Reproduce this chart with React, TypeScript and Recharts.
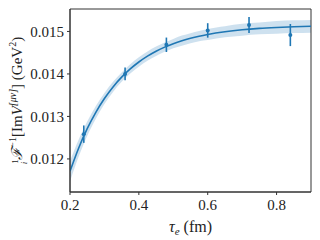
import {
  Area,
  ComposedChart,
  ErrorBar,
  Line,
  ReferenceArea,
  Scatter,
  XAxis,
  YAxis,
} from 'recharts';

const C0 = '#1f77b4';
const FONT = '"Liberation Serif", "DejaVu Serif", serif';

// fit curve + band
const fitX = [0.2, 0.225, 0.25, 0.275, 0.3, 0.325, 0.35, 0.375, 0.4, 0.425, 0.45, 0.475, 0.5, 0.525, 0.55, 0.575, 0.6, 0.65, 0.7, 0.75, 0.8, 0.85, 0.9];
const fitY = [0.01171, 0.012253, 0.012711, 0.013096, 0.013421, 0.013694, 0.013924, 0.014118, 0.014281, 0.014418, 0.014534, 0.014631, 0.014713, 0.014782, 0.01484, 0.014889, 0.01493, 0.014994, 0.01504, 0.015072, 0.015094, 0.015111, 0.015122];
const bandHalf = [0.00024, 0.0002, 0.00017, 0.00015, 0.00013, 0.00012, 0.00011, 0.00011, 0.00011, 0.00011, 0.00011, 0.00011, 0.00011, 0.00012, 0.00012, 0.00012, 0.00013, 0.00013, 0.00014, 0.00014, 0.00015, 0.00015, 0.00015];

// lattice points
const tauE = [0.24, 0.36, 0.48, 0.6, 0.72, 0.84];
const values = [0.012583, 0.014, 0.014686, 0.015024, 0.015151, 0.014915];
const errors = [0.000205, 0.00015, 0.00017, 0.00017, 0.00019, 0.00026];

const xTicks = [0.2, 0.4, 0.6, 0.8];
const yTicks = [0.012, 0.013, 0.014, 0.015];
const xDomain = [0.2, 0.9];
const yDomain = [0.011222, 0.015528];

const fitData = fitX.map((x, i) => ({ x, y: fitY[i], band: [fitY[i] - bandHalf[i], fitY[i] + bandHalf[i]] }));
const pointData = tauE.map((x, i) => ({ x, v: values[i], err: errors[i] }));

function YLabel(props: any) {
  const vb = props.viewBox || { x: 0, y: 0, width: 0, height: 0 };
  const cx = 22;
  const cy = vb.y + vb.height / 2;
  return (
    <text x={cx} y={cy} transform={`rotate(-90 ${cx} ${cy})`} textAnchor="middle" fill="#222" fontFamily={FONT} fontSize={15}>
      <tspan fontSize={9} dy={-4}>1</tspan>
      <tspan fontSize={9} dx={-5} dy={9} fontStyle="italic">i</tspan>
      <tspan dx={2} dy={-5} fontStyle="italic">ℱ</tspan>
      <tspan fontSize={10} dy={-6}>−1</tspan>
      <tspan dy={6}>[Im</tspan>
      <tspan fontStyle="italic">V</tspan>
      <tspan fontSize={10} dy={-6} fontStyle="italic">[μν]</tspan>
      <tspan dy={6}>] (GeV</tspan>
      <tspan fontSize={10} dy={-6}>2</tspan>
      <tspan dy={6}>)</tspan>
    </text>
  );
}

function XLabel(props: any) {
  const vb = props.viewBox || { x: 0, y: 0, width: 0, height: 0 };
  const cx = vb.x + vb.width / 2;
  return (
    <text x={cx} y={232} textAnchor="middle" fill="#222" fontFamily={FONT} fontSize={16}>
      <tspan fontStyle="italic">τ</tspan>
      <tspan fontSize={11} dy={3} fontStyle="italic">e</tspan>
      <tspan dy={-3}> (fm)</tspan>
    </text>
  );
}

function Dot(props: any) {
  const { cx, cy } = props;
  return <circle cx={cx} cy={cy} r={2} fill={C0} />;
}

export default function App() {
  return (
    <div style={{ position: 'absolute', left: 0, top: 0, width: 320, height: 240, background: '#fff' }}>
      <ComposedChart width={320} height={240} data={fitData} margin={{ top: 9, right: 9, left: 0, bottom: 0 }}>
        <XAxis
          dataKey="x"
          type="number"
          domain={xDomain}
          ticks={xTicks}
          allowDataOverflow
          height={48}
          tickSize={3}
          tickLine={{ stroke: '#333' }}
          axisLine={{ stroke: '#333' }}
          tick={{ fill: '#222', fontSize: 15, fontFamily: FONT, dy: 2 }}
          tickFormatter={(v: number) => v.toFixed(1)}
          label={<XLabel />}
        />
        <YAxis
          type="number"
          domain={yDomain}
          ticks={yTicks}
          allowDataOverflow
          width={70}
          tickSize={3}
          tickLine={{ stroke: '#333' }}
          axisLine={{ stroke: '#333' }}
          tick={{ fill: '#222', fontSize: 15, fontFamily: FONT, dx: -1 }}
          tickFormatter={(v: number) => v.toFixed(3)}
          label={<YLabel />}
        />
        <Area dataKey="band" type="monotone" stroke="none" fill={C0} fillOpacity={0.22} isAnimationActive={false} />
        <Line dataKey="y" type="monotone" stroke={C0} strokeWidth={1.6} dot={false} isAnimationActive={false} />
        <Scatter data={pointData} dataKey="v" fill={C0} shape={<Dot />} isAnimationActive={false}>
          <ErrorBar dataKey="err" direction="y" width={0} stroke={C0} strokeWidth={1.6} />
        </Scatter>
        <ReferenceArea x1={xDomain[0]} x2={xDomain[1]} y1={yDomain[0]} y2={yDomain[1]} fill="none" stroke="#333" strokeWidth={1} />
      </ComposedChart>
    </div>
  );
}
